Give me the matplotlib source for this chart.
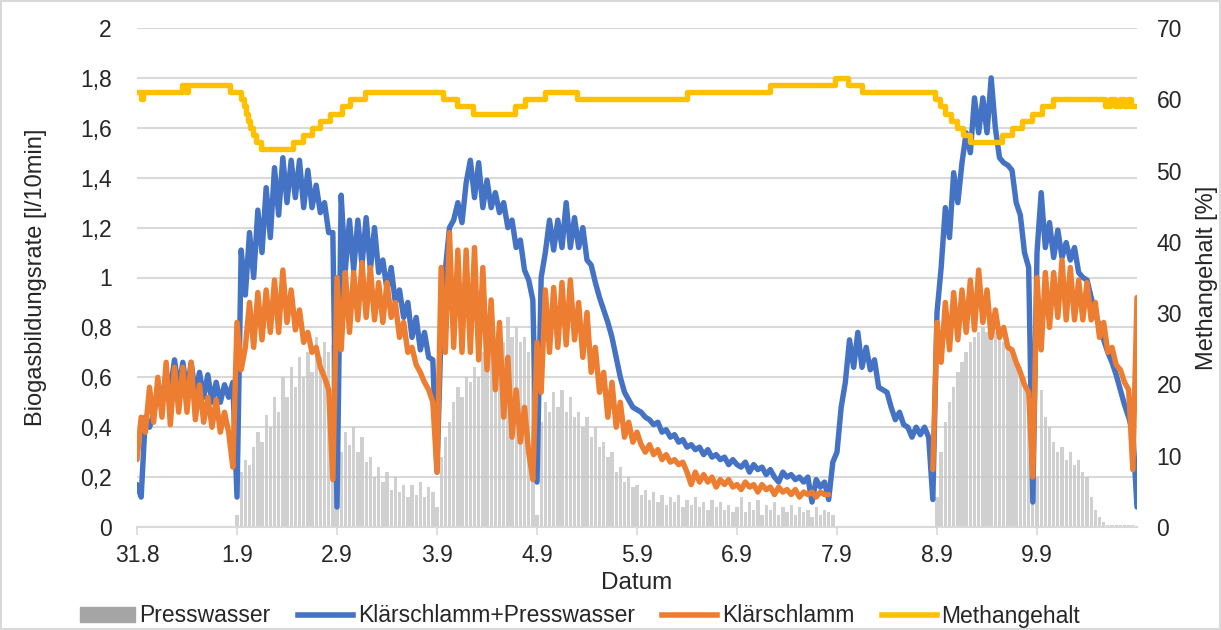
import numpy as np
import matplotlib
matplotlib.use("Agg")
import matplotlib.pyplot as plt
import matplotlib.ticker as mticker
from matplotlib.patches import Patch
from matplotlib.lines import Line2D

plt.rcParams["font.family"] = ["Liberation Sans", "DejaVu Sans"]

nan = np.nan

# hourly samples, one row per day, starting 31.8 00:00
blue = [
    0.17, 0.12, 0.44, 0.40, 0.45, 0.55, 0.50, 0.62, 0.55, 0.67, 0.55, 0.66, 0.54, 0.66, 0.53, 0.62, 0.52, 0.61, 0.50, 0.58, 0.50, 0.57, 0.52, 0.58,
    0.12, 1.11, 0.93, 1.18, 1.00, 1.27, 1.10, 1.36, 1.16, 1.44, 1.25, 1.48, 1.30, 1.47, 1.32, 1.47, 1.28, 1.43, 1.28, 1.37, 1.26, 1.30, 1.18, 1.18,
    0.08, 1.33, 1.03, 1.23, 1.03, 1.23, 1.05, 1.24, 1.03, 1.20, 1.02, 1.07, 0.95, 1.04, 0.90, 0.95, 0.84, 0.90, 0.76, 0.84, 0.71, 0.78, 0.68, 0.67,
    0.22, 0.80, 1.03, 1.20, 1.23, 1.30, 1.22, 1.38, 1.47, 1.32, 1.46, 1.28, 1.39, 1.28, 1.34, 1.26, 1.30, 1.20, 1.23, 1.12, 1.15, 1.03, 0.99, 0.91,
    0.18, 1.00, 1.10, 1.23, 1.11, 1.23, 1.12, 1.30, 1.12, 1.24, 1.12, 1.20, 1.07, 1.05, 0.98, 0.92, 0.87, 0.82, 0.76, 0.68, 0.60, 0.54, 0.51, 0.48,
    0.47, 0.46, 0.44, 0.43, 0.41, 0.42, 0.38, 0.39, 0.36, 0.37, 0.34, 0.35, 0.32, 0.33, 0.31, 0.32, 0.29, 0.31, 0.28, 0.29, 0.27, 0.28, 0.25, 0.27,
    0.25, 0.24, 0.26, 0.22, 0.25, 0.23, 0.24, 0.21, 0.23, 0.20, 0.18, 0.22, 0.20, 0.21, 0.19, 0.20, 0.18, 0.20, 0.10, 0.19, 0.16, 0.18, 0.11, 0.26,
    0.30, 0.48, 0.58, 0.75, 0.64, 0.78, 0.64, 0.72, 0.63, 0.67, 0.56, 0.55, 0.54, 0.48, 0.43, 0.46, 0.41, 0.40, 0.36, 0.40, 0.37, 0.40, 0.36, 0.11,
    0.86, 1.04, 1.28, 1.16, 1.42, 1.30, 1.46, 1.58, 1.50, 1.72, 1.58, 1.72, 1.58, 1.80, 1.60, 1.48, 1.46, 1.45, 1.43, 1.30, 1.25, 1.10, 1.04, 0.10,
    1.10, 1.34, 1.12, 1.22, 1.08, 1.19, 1.08, 1.14, 1.07, 1.12, 1.02, 1.00, 0.99, 0.92, 0.86, 0.80, 0.75, 0.70, 0.66, 0.61, 0.55, 0.49, 0.44, 0.38,
    0.08,
]

orange = [
    0.27, 0.44, 0.38, 0.56, 0.42, 0.60, 0.44, 0.66, 0.41, 0.64, 0.46, 0.64, 0.46, 0.66, 0.43, 0.57, 0.42, 0.52, 0.40, 0.51, 0.38, 0.46, 0.38, 0.24,
    0.82, 0.63, 0.72, 0.90, 0.72, 0.94, 0.75, 0.95, 0.78, 0.99, 0.78, 1.03, 0.82, 0.95, 0.79, 0.87, 0.74, 0.78, 0.70, 0.72, 0.64, 0.60, 0.55, 0.19,
    1.00, 0.71, 1.02, 0.78, 1.02, 0.83, 1.06, 0.84, 1.04, 0.83, 0.98, 0.82, 0.98, 0.84, 0.90, 0.76, 0.82, 0.70, 0.72, 0.65, 0.62, 0.58, 0.55, 0.50,
    0.22, 1.04, 0.70, 1.18, 0.72, 1.11, 0.70, 1.11, 0.70, 1.12, 0.67, 1.04, 0.63, 0.91, 0.55, 0.82, 0.44, 0.68, 0.36, 0.55, 0.34, 0.48, 0.30, 0.19,
    0.74, 0.54, 0.95, 0.70, 0.96, 0.72, 0.98, 0.73, 0.99, 0.75, 0.90, 0.68, 0.86, 0.62, 0.72, 0.54, 0.62, 0.44, 0.58, 0.40, 0.50, 0.36, 0.42, 0.34,
    0.38, 0.33, 0.30, 0.33, 0.29, 0.31, 0.27, 0.29, 0.26, 0.27, 0.25, 0.26, 0.22, 0.17, 0.22, 0.18, 0.21, 0.18, 0.20, 0.16, 0.19, 0.17, 0.19, 0.16,
    0.17, 0.15, 0.18, 0.16, 0.17, 0.14, 0.17, 0.15, 0.16, 0.13, 0.16, 0.14, 0.15, 0.13, 0.15, 0.12, 0.14, 0.13, 0.14, 0.12, 0.14, 0.13, 0.13, nan,
    nan, nan, nan, nan, nan, nan, nan, nan, nan, nan, nan, nan, nan, nan, nan, nan, nan, nan, nan, nan, nan, nan, nan, 0.23,
    0.82, 0.66, 0.90, 0.71, 0.94, 0.75, 0.95, 0.78, 0.99, 0.79, 1.03, 0.82, 0.95, 0.76, 0.87, 0.76, 0.80, 0.72, 0.71, 0.66, 0.62, 0.57, 0.54, 0.20,
    1.00, 0.71, 1.02, 0.80, 1.02, 0.84, 1.07, 0.83, 1.04, 0.83, 0.99, 0.83, 0.98, 0.83, 0.90, 0.76, 0.82, 0.70, 0.72, 0.65, 0.63, 0.58, 0.55, 0.23,
    0.92,
]

presswasser = [
    0, 0, 0, 0, 0, 0, 0, 0, 0, 0, 0, 0, 0, 0, 0, 0, 0, 0, 0, 0, 0, 0, 0, 0,
    0.05, 0.22, 0.27, 0.25, 0.32, 0.38, 0.34, 0.45, 0.40, 0.52, 0.46, 0.60, 0.52, 0.64, 0.56, 0.68, 0.60, 0.70, 0.62, 0.76, 0.68, 0.74, 0.70, 0.73,
    0.10, 0.30, 0.38, 0.33, 0.40, 0.30, 0.36, 0.26, 0.28, 0.20, 0.24, 0.18, 0.22, 0.15, 0.20, 0.14, 0.17, 0.12, 0.17, 0.13, 0.18, 0.12, 0.16, 0.14,
    0.08, 0.28, 0.36, 0.42, 0.50, 0.56, 0.52, 0.60, 0.58, 0.64, 0.60, 0.70, 0.64, 0.74, 0.70, 0.80, 0.74, 0.84, 0.76, 0.80, 0.74, 0.76, 0.70, 0.72,
    0.05, 0.42, 0.50, 0.46, 0.54, 0.48, 0.55, 0.46, 0.52, 0.44, 0.46, 0.40, 0.44, 0.36, 0.40, 0.32, 0.34, 0.28, 0.30, 0.22, 0.24, 0.18, 0.20, 0.16,
    0.17, 0.13, 0.15, 0.11, 0.14, 0.10, 0.13, 0.09, 0.12, 0.10, 0.13, 0.08, 0.11, 0.09, 0.12, 0.08, 0.10, 0.07, 0.11, 0.08, 0.10, 0.07, 0.09, 0.06,
    0.08, 0.12, 0.06, 0.10, 0.07, 0.11, 0.05, 0.09, 0.07, 0.10, 0.05, 0.08, 0.06, 0.09, 0.05, 0.08, 0.06, 0.07, 0.04, 0.08, 0.05, 0.07, 0.06, 0.05,
    0, 0, 0, 0, 0, 0, 0, 0, 0, 0, 0, 0, 0, 0, 0, 0, 0, 0, 0, 0, 0, 0, 0, 0,
    0.12, 0.30, 0.42, 0.50, 0.56, 0.62, 0.66, 0.70, 0.74, 0.76, 0.78, 0.80, 0.78, 0.82, 0.78, 0.80, 0.74, 0.72, 0.70, 0.66, 0.64, 0.60, 0.56, 0.10,
    0.20, 0.55, 0.44, 0.40, 0.34, 0.30, 0.32, 0.27, 0.30, 0.25, 0.27, 0.22, 0.20, 0.12, 0.07, 0.04, 0.02, 0.01, 0.01, 0.01, 0.01, 0.01, 0.01, 0.01,
    0,
]

# Methangehalt change points (days since 31.8) and level in %
methan_t = [0, 0.04, 0.06, 0.45, 0.49, 0.51, 0.93, 1.04, 1.07, 1.09, 1.11, 1.13, 1.16, 1.19, 1.24,
            1.56, 1.66, 1.75, 1.83, 1.93, 2.05, 2.13, 2.28, 3.06, 3.20, 3.36, 3.78, 3.88, 4.08, 4.40,
            5.50, 6.33, 6.98, 7.11, 7.25, 7.98, 8.03, 8.08, 8.14, 8.20, 8.26, 8.33, 8.65, 8.75, 8.85,
            8.95, 9.05, 9.16, 9.68, 9.73, 9.78, 9.83, 9.87, 9.91, 9.94, 10.0]
methan_v = [61, 60, 61, 62, 61, 62, 61, 60, 59, 58, 57, 56, 55, 54, 53,
            54, 55, 56, 57, 58, 59, 60, 61, 60, 59, 58, 59, 60, 61, 60,
            61, 62, 63, 62, 61, 60, 59, 58, 57, 56, 55, 54, 55, 56, 57,
            58, 59, 60, 59, 60, 59, 60, 59, 60, 59, 59]

day_labels = ["31.8", "1.9", "2.9", "3.9", "4.9", "5.9", "6.9", "7.9", "8.9", "9.9"]

C_BLUE, C_ORANGE, C_YELLOW, C_GRAY = "#4472C4", "#ED7D31", "#FFC000", "#A5A5A5"
TXT = "#262626"
GRID = "#d9d9d9"
LW = 3.9

t = np.arange(len(blue)) / 24.0

fig = plt.figure(figsize=(12.21, 6.30), dpi=100)
fig.patch.set_edgecolor(GRID)
fig.patch.set_linewidth(1.5)
ax = fig.add_axes([137 / 1221, 1 - 527 / 630, 1000 / 1221, 499 / 630])

ax.bar(t, presswasser, width=0.8 / 24, color="#c8c8c8", alpha=0.85, linewidth=0, zorder=2)
ax.plot(t, blue, color=C_BLUE, lw=LW, solid_joinstyle="round", solid_capstyle="round", zorder=3)
ax.plot(t, orange, color=C_ORANGE, lw=LW, solid_joinstyle="round", solid_capstyle="round", zorder=4)

ax.set_xlim(0, 10)
ax.set_ylim(0, 2)
ax.set_yticks(np.arange(0, 2.01, 0.2))
ax.yaxis.set_major_formatter(mticker.FuncFormatter(
    lambda v, _: ("%g" % round(v, 1)).replace(".", ",")))
ax.set_xticks(range(len(day_labels)))
ax.set_xticklabels(day_labels)
ax.yaxis.grid(True, color=GRID, lw=1.5, zorder=0)
ax.set_axisbelow(True)
for s in ["top", "right", "left"]:
    ax.spines[s].set_visible(False)
ax.spines["bottom"].set_color(GRID)
ax.spines["bottom"].set_linewidth(1.5)
ax.tick_params(axis="y", length=0, pad=18, labelsize=16.5, labelcolor=TXT)
ax.tick_params(axis="x", length=6, width=1.2, color=GRID, pad=6, labelsize=16.5, labelcolor=TXT)
ax.set_ylabel("Biogasbildungsrate [l/10min]", fontsize=17, color=TXT, labelpad=24)
ax.set_xlabel("Datum", fontsize=17.5, color=TXT, labelpad=4)

ax2 = ax.twinx()
ax2.plot(methan_t, methan_v, drawstyle="steps-post", color=C_YELLOW, lw=LW,
         solid_joinstyle="round", zorder=5)
ax2.set_ylim(0, 70)
ax2.set_yticks(range(0, 71, 10))
for s in ["top", "right", "left", "bottom"]:
    ax2.spines[s].set_visible(False)
ax2.tick_params(axis="y", length=0, pad=14, labelsize=16.5, labelcolor=TXT)
ax2.set_ylabel("Methangehalt [%]", fontsize=17, color=TXT, labelpad=10)

handles = [
    Patch(color=C_GRAY, label="Presswasser"),
    Line2D([], [], color=C_BLUE, lw=4, label="Klärschlamm+Presswasser"),
    Line2D([], [], color=C_ORANGE, lw=4, label="Klärschlamm"),
    Line2D([], [], color=C_YELLOW, lw=4, label="Methangehalt"),
]
fig.legend(handles=handles, loc="center", bbox_to_anchor=(580 / 1221, 1 - 616 / 630), ncol=4,
           frameon=False, fontsize=16.5, handlelength=2.4, handleheight=0.6,
           handletextpad=0.2, columnspacing=1.2, labelcolor=TXT)

fig.savefig("out.png", dpi=100)
